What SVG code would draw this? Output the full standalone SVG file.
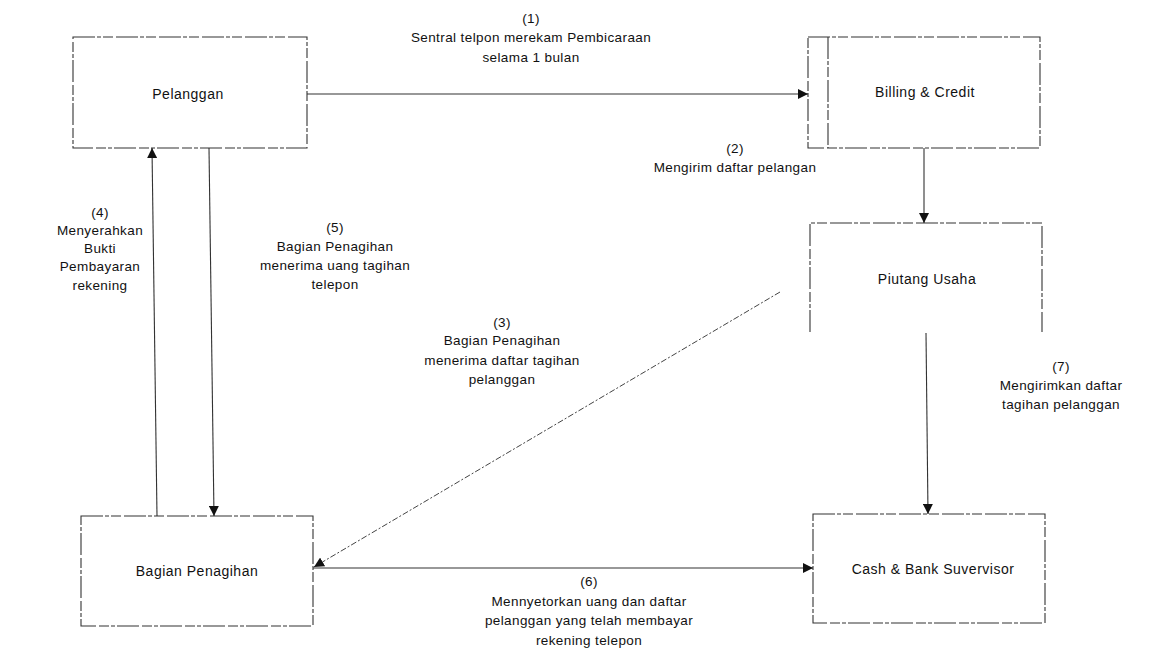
<svg xmlns="http://www.w3.org/2000/svg" width="1159" height="655" viewBox="0 0 1159 655">
<style>
  .box{fill:none;stroke:#333;stroke-width:1.1;stroke-dasharray:22 2 4 2 10 3}
  .lbl{font-family:"Liberation Sans",Arial,sans-serif;font-size:13.5px;fill:#111;text-anchor:middle;letter-spacing:0.4px}
  .node{font-family:"Liberation Sans",Arial,sans-serif;font-size:14px;fill:#111;text-anchor:middle;letter-spacing:0.5px}
  .con{fill:none;stroke:#333;stroke-width:1.1}
  .faint{fill:none;stroke:#444;stroke-width:1;stroke-dasharray:6 2 2 2}
</style>
<defs>
  <marker id="arr" viewBox="0 0 10 10" refX="10" refY="5" markerWidth="10" markerHeight="10" markerUnits="userSpaceOnUse" orient="auto">
    <path d="M0,0 L10,5 L0,10 z" fill="#111"/>
  </marker>
</defs>
<rect width="1159" height="655" fill="#fff"/>

<g id="pelanggan">
  <rect class="box" x="73" y="37" width="234" height="111"/>
  <text class="node" x="188" y="99">Pelanggan</text>
</g>
<g id="billing">
  <rect class="box" x="808" y="37" width="232" height="111"/>
  <line class="box" x1="828" y1="37" x2="828" y2="148"/>
  <text class="node" x="925" y="97">Billing &amp; Credit</text>
</g>
<g id="piutang">
  <path class="box" d="M810,332 L810,223 L1042,223 L1042,332"/>
  <text class="node" x="927" y="284">Piutang Usaha</text>
</g>
<g id="bagian">
  <rect class="box" x="81" y="516" width="232" height="110"/>
  <text class="node" x="197" y="576">Bagian Penagihan</text>
</g>
<g id="cash">
  <rect class="box" x="813" y="514" width="232" height="109"/>
  <text class="node" x="933" y="574">Cash &amp; Bank Suvervisor</text>
</g>

<g id="connectors">
  <line class="con" x1="307" y1="94" x2="808" y2="94" marker-end="url(#arr)"/>
  <line class="con" x1="924" y1="148" x2="924" y2="223" marker-end="url(#arr)"/>
  <line class="con" x1="926" y1="333" x2="928" y2="514" marker-end="url(#arr)"/>
  <line class="faint" x1="780" y1="292" x2="314" y2="567" marker-end="url(#arr)"/>
  <line class="con" x1="313" y1="568" x2="813" y2="568" marker-end="url(#arr)"/>
  <line class="con" x1="157" y1="516" x2="152" y2="148" marker-end="url(#arr)"/>
  <line class="con" x1="209" y1="148" x2="214" y2="516" marker-end="url(#arr)"/>
</g>

<g id="labels">
  <text class="lbl" x="531" y="23">(1)</text>
  <text class="lbl" x="531" y="42">Sentral telpon merekam Pembicaraan</text>
  <text class="lbl" x="531" y="62">selama 1 bulan</text>

  <text class="lbl" x="735" y="153">(2)</text>
  <text class="lbl" x="735" y="172">Mengirim daftar pelangan</text>

  <text class="lbl" x="100" y="217">(4)</text>
  <text class="lbl" x="100" y="235">Menyerahkan</text>
  <text class="lbl" x="100" y="253">Bukti</text>
  <text class="lbl" x="100" y="271">Pembayaran</text>
  <text class="lbl" x="100" y="290">rekening</text>

  <text class="lbl" x="335" y="232">(5)</text>
  <text class="lbl" x="335" y="251">Bagian Penagihan</text>
  <text class="lbl" x="335" y="270">menerima uang tagihan</text>
  <text class="lbl" x="335" y="289">telepon</text>

  <text class="lbl" x="502" y="327">(3)</text>
  <text class="lbl" x="502" y="345">Bagian Penagihan</text>
  <text class="lbl" x="502" y="365">menerima daftar tagihan</text>
  <text class="lbl" x="502" y="384">pelanggan</text>

  <text class="lbl" x="1061" y="371">(7)</text>
  <text class="lbl" x="1061" y="390">Mengirimkan daftar</text>
  <text class="lbl" x="1061" y="409">tagihan pelanggan</text>

  <text class="lbl" x="589" y="586">(6)</text>
  <text class="lbl" x="589" y="606">Mennyetorkan uang dan daftar</text>
  <text class="lbl" x="589" y="625">pelanggan yang telah membayar</text>
  <text class="lbl" x="589" y="645">rekening telepon</text>
</g>
</svg>
